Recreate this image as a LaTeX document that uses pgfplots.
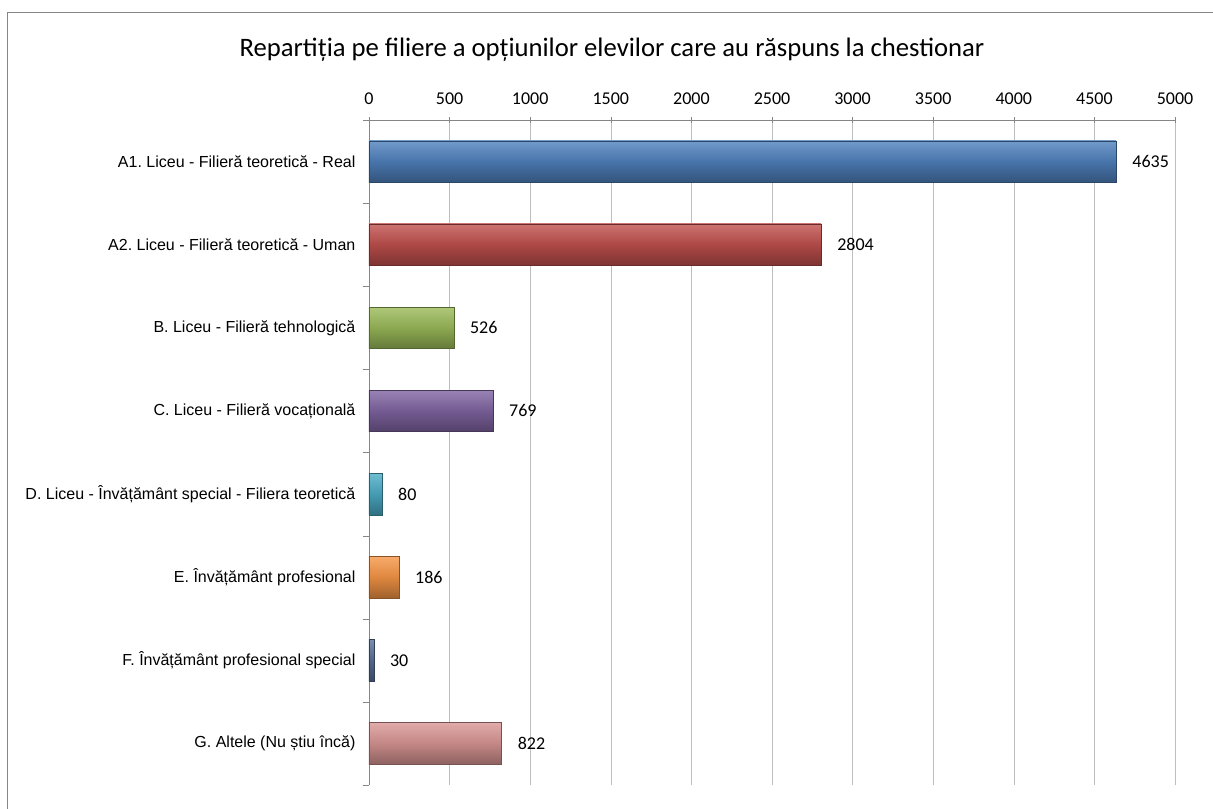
\documentclass[border=0pt]{standalone}
\usepackage{pgfplots}
\pgfplotsset{compat=1.18}
\usepackage{fontspec}
\setmainfont{Carlito}
\newfontfamily\arial{Liberation Sans}

\definecolor{cA}{HTML}{4F81BD}
\definecolor{cB}{HTML}{C0504D}
\definecolor{cC}{HTML}{9BBB59}
\definecolor{cD}{HTML}{8064A2}
\definecolor{cE}{HTML}{4BACC6}
\definecolor{cF}{HTML}{F79646}
\definecolor{cG}{HTML}{5B7199}
\definecolor{cH}{HTML}{D99694}
\definecolor{gridc}{RGB}{190,190,190}
\definecolor{axc}{RGB}{134,134,134}

\pgfkeys{/pgf/number format/1000 sep={}, /pgf/number format/assume math mode=true}

% one style per bar: light edge on top, darker body and bottom
\pgfplotsset{
  bevel/.style={xbar, bar shift=0pt, bar width=0.5,
    top color=#1!80!white, bottom color=#1!65!black, middle color=#1!90!black,
    draw=#1!55!black},
}

\begin{document}
\frenchspacing
\begin{tikzpicture}
\begin{axis}[
  at={(0,0)}, anchor=south west,
  width=604.5pt, height=498.75pt, scale only axis,
  xmin=0, xmax=5000,
  ymin=-0.5, ymax=7.5, y dir=reverse,
  axis x line*=top, axis y line*=left,
  axis line style={axc},
  xtick={0,500,...,5000},
  scaled x ticks=false,
  major tick length=0pt,
  xmajorgrids, grid style={gridc},
  extra x ticks={0,500,...,5000}, extra x tick labels={},
  extra x tick style={major tick length=4pt, tick align=center, grid=none},
  ytick={0,...,7},
  yticklabels={A1. Liceu - Filieră teoretică - Real,
               A2. Liceu - Filieră teoretică - Uman,
               B. Liceu - Filieră tehnologică,
               C. Liceu - Filieră vocațională,
               D. Liceu - Învățământ special - Filiera teoretică,
               E. Învățământ profesional,
               F. Învățământ profesional special\ ,
               G. Altele (Nu știu încă)},
  extra y ticks={-0.5,0.5,...,7.5}, extra y tick labels={},
  extra y tick style={major tick length=4.5pt, tick align=outside},
  tick style={axc},
  xticklabel style={font=\fontsize{13.5}{16}\selectfont, yshift=8pt},
  yticklabel style={font=\arial\fontsize{12}{14}\selectfont, inner sep=0pt, xshift=-10pt},
  point meta=x,
  nodes near coords,
  nodes near coords style={font=\fontsize{13.5}{16}\selectfont, anchor=west, inner sep=0pt, xshift=12pt, text=black},
  clip=false,
]
\addplot[bevel=cA] coordinates {(4635,0)};
\addplot[bevel=cB] coordinates {(2804,1)};
\addplot[bevel=cC] coordinates {(526,2)};
\addplot[bevel=cD] coordinates {(769,3)};
\addplot[bevel=cE] coordinates {(80,4)};
\addplot[bevel=cF] coordinates {(186,5)};
\addplot[bevel=cG] coordinates {(30,6)};
\addplot[bevel=cH] coordinates {(822,7)};
\end{axis}
% image pixel coordinates: origin at the top-left corner, y downwards
\begin{scope}[x=0.75pt, y=-0.75pt, shift={(-369,-785)}]
  \draw[axc] (7,12) rectangle (1240,840);
  \node[font=\fontsize{20}{24}\selectfont] at (612,50)
    {Repartiția pe filiere a opțiunilor elevilor care au răspuns la chestionar};
  \pgfresetboundingbox
  \path (0,0) rectangle (1213,808);
\end{scope}
\end{tikzpicture}
\end{document}
